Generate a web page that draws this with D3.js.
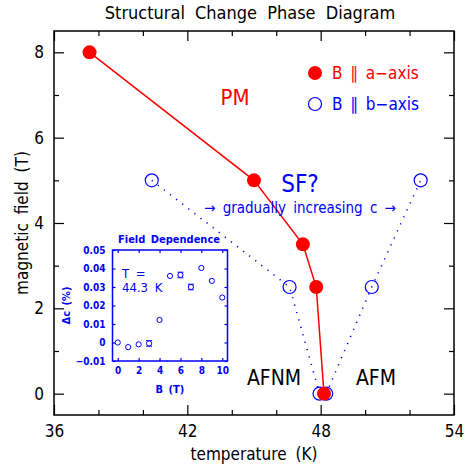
<!DOCTYPE html>
<head>
  <meta charset="utf-8">
  <script src="https://d3js.org/d3.v7.min.js"></script>
  <style>
    body { margin:0; background-color: white; }
    text { font-family: 'Liberation Sans Narrow', 'DejaVu Sans Condensed', 'Liberation Sans', Arial, sans-serif; }
    .axis path { display: none; }
    .axis line { stroke: black; stroke-width: 1.2px; }
    .axis text { font-size: 17px; fill: black; }
    .inset .axis line { stroke: blue; }
    .inset .axis text { font-size: 10px; font-weight: bold; fill: blue; }
  </style>
</head>
<body>
<svg id="chart" width="465" height="471"></svg>
<script>
// main phase diagram data
var redT = [37.6, 45.0, 47.2, 47.8, 48.15];
var redB = [8, 5, 3.5, 2.5, 0];
var blueLeftT = [40.4, 46.6, 47.95];
var blueLeftB = [5, 2.5, 0];
var blueRightT = [48.25, 50.3, 52.5];
var blueRightB = [0, 2.5, 5];
var xMajor = [36, 42, 48, 54];
var xMinor = [38, 40, 44, 46, 50, 52];
var yMajor = [0, 2, 4, 6, 8];
var yMinor = [1, 3, 5, 7];

// inset data (field dependence at T = 44.3 K)
var fieldB = [0, 1, 2, 3, 4, 5, 6, 7, 8, 9, 10];
var deltaC = [0.0, -0.0025, -0.001, -0.0005, 0.0122, 0.036, 0.0365, 0.030, 0.0403, 0.0333, 0.0243];
var deltaErr = [0, 0, 0, 0.0015, 0, 0, 0.0015, 0.0015, 0, 0, 0];
var insetXTicks = [0, 2, 4, 6, 8, 10];
var insetYTicks = [-0.01, 0, 0.01, 0.02, 0.03, 0.04, 0.05];

var svg = d3.select("#chart");
var pL = 54, pR = 454, pT = 31, pB = 415;

var x = d3.scaleLinear().domain([36, 54]).range([pL, pR]);
var y = d3.scaleLinear().domain([-0.5, 8.5]).range([pB, pT]);

function zip(a, b) { return a.map(function(d, i) { return [d, b[i]]; }); }

// axes: inward ticks on all four sides
svg.append("g").attr("class", "axis").attr("transform", "translate(0," + pB + ")")
  .call(d3.axisBottom(x).tickValues(xMajor).tickSize(-10).tickPadding(10).tickFormat(d3.format("d")));
svg.append("g").attr("class", "axis").attr("transform", "translate(0," + pB + ")")
  .call(d3.axisBottom(x).tickValues(xMinor).tickSize(-5).tickFormat(""));
svg.append("g").attr("class", "axis").attr("transform", "translate(0," + pT + ")")
  .call(d3.axisTop(x).tickValues(xMajor).tickSize(-10).tickFormat(""));
svg.append("g").attr("class", "axis").attr("transform", "translate(0," + pT + ")")
  .call(d3.axisTop(x).tickValues(xMinor).tickSize(-5).tickFormat(""));
svg.append("g").attr("class", "axis").attr("transform", "translate(" + pL + ",0)")
  .call(d3.axisLeft(y).tickValues(yMajor).tickSize(-10).tickPadding(10).tickFormat(d3.format("d")));
svg.append("g").attr("class", "axis").attr("transform", "translate(" + pL + ",0)")
  .call(d3.axisLeft(y).tickValues(yMinor).tickSize(-5).tickFormat(""));
svg.append("g").attr("class", "axis").attr("transform", "translate(" + pR + ",0)")
  .call(d3.axisRight(y).tickValues(yMajor).tickSize(-10).tickFormat(""));
svg.append("g").attr("class", "axis").attr("transform", "translate(" + pR + ",0)")
  .call(d3.axisRight(y).tickValues(yMinor).tickSize(-5).tickFormat(""));

svg.append("rect")
  .attr("x", pL).attr("y", pT)
  .attr("width", pR - pL).attr("height", pB - pT)
  .style("fill", "none").style("stroke", "black").style("stroke-width", "1.5px");

// titles
svg.append("text").attr("x", 250).attr("y", 19)
  .style("text-anchor", "middle").style("font-size", "18px").style("word-spacing", "5px")
  .text("Structural Change Phase Diagram");
svg.append("text").attr("x", 254).attr("y", 460)
  .style("text-anchor", "middle").style("font-size", "17px").style("word-spacing", "4px")
  .text("temperature (K)");
svg.append("text").attr("transform", "translate(28," + ((pT + pB) / 2) + ") rotate(-90)")
  .style("text-anchor", "middle").style("font-size", "17px").style("word-spacing", "4px")
  .text("magnetic field (T)");

// blue dotted lines
var line = d3.line().x(function(d) { return x(d[0]); }).y(function(d) { return y(d[1]); });
[zip(blueLeftT, blueLeftB), zip(blueRightT, blueRightB)].forEach(function(pts) {
  svg.append("path").attr("d", line(pts))
    .style("fill", "none").style("stroke", "blue").style("stroke-width", "1.6px")
    .style("stroke-dasharray", "1.2 6.5");
});

// red line + dots
svg.append("path").attr("d", line(zip(redT, redB)))
  .style("fill", "none").style("stroke", "red").style("stroke-width", "1.5px");

var bluePts = zip(blueLeftT, blueLeftB).concat(zip(blueRightT, blueRightB));
svg.selectAll(".bdot").data(bluePts).enter().append("circle")
  .attr("class", "bdot")
  .attr("cx", function(d) { return x(d[0]); })
  .attr("cy", function(d) { return y(d[1]); })
  .attr("r", 6.5)
  .style("fill", "none").style("stroke", "blue").style("stroke-width", "1.2px");

svg.selectAll(".rdot").data(zip(redT, redB)).enter().append("circle")
  .attr("class", "rdot")
  .attr("cx", function(d) { return x(d[0]); })
  .attr("cy", function(d) { return y(d[1]); })
  .attr("r", 7)
  .style("fill", "red");

// legend
svg.append("circle").attr("cx", 315).attr("cy", 73).attr("r", 7).style("fill", "red");
svg.append("text").attr("x", 332).attr("y", 79).style("font-size", "17px").style("fill", "red")
  .style("word-spacing", "3px").text("B \u2225 a\u2212axis");
svg.append("circle").attr("cx", 315).attr("cy", 104).attr("r", 6.5)
  .style("fill", "none").style("stroke", "blue").style("stroke-width", "1.2px");
svg.append("text").attr("x", 332).attr("y", 110).style("font-size", "17px").style("fill", "blue")
  .style("word-spacing", "3px").text("B \u2225 b\u2212axis");

// phase labels
svg.append("text").attr("x", 235).attr("y", 105).style("text-anchor", "middle")
  .style("font-size", "22px").style("fill", "red").text("PM");
svg.append("text").attr("x", 300).attr("y", 192).style("text-anchor", "middle")
  .style("font-size", "24px").style("fill", "blue").text("SF?");
svg.append("text").attr("x", 300).attr("y", 213).style("text-anchor", "middle")
  .style("font-size", "15px").style("fill", "blue").style("word-spacing", "3px")
  .text("\u2192 gradually increasing c \u2192");
svg.append("text").attr("x", 274).attr("y", 385).style("text-anchor", "middle")
  .style("font-size", "21px").style("fill", "black").text("AFNM");
svg.append("text").attr("x", 376).attr("y", 385).style("text-anchor", "middle")
  .style("font-size", "21px").style("fill", "black").text("AFM");

// inset
var inset = svg.append("g").attr("class", "inset");
var il = 112.5, ir = 227.5, it = 250, ib = 361;
var ix = d3.scaleLinear().domain([-0.5, 10.5]).range([il, ir]);
var iy = d3.scaleLinear().domain([-0.01, 0.05]).range([ib, it]);

inset.append("rect").attr("x", il).attr("y", it).attr("width", ir - il).attr("height", ib - it)
  .style("fill", "white").style("stroke", "blue").style("stroke-width", "1.5px");

inset.append("g").attr("class", "axis").attr("transform", "translate(0," + ib + ")")
  .call(d3.axisBottom(ix).tickValues(insetXTicks).tickSize(-3).tickPadding(6).tickFormat(d3.format("d")));
inset.append("g").attr("class", "axis").attr("transform", "translate(0," + it + ")")
  .call(d3.axisTop(ix).tickValues(insetXTicks).tickSize(-3).tickFormat(""));
inset.append("g").attr("class", "axis").attr("transform", "translate(" + il + ",0)")
  .call(d3.axisLeft(iy).tickValues(insetYTicks).tickSize(-3).tickPadding(7)
    .tickFormat(function(d) { return d === 0 ? "0" : d3.format(".2f")(d).replace("-", "\u2212"); }));
inset.append("g").attr("class", "axis").attr("transform", "translate(" + ir + ",0)")
  .call(d3.axisRight(iy).tickValues(insetYTicks).tickSize(-3).tickFormat(""));

inset.append("text").attr("x", 169).attr("y", 243).style("text-anchor", "middle")
  .style("font-size", "11px").style("font-weight", "bold").style("fill", "blue")
  .style("word-spacing", "2px").text("Field Dependence");
inset.append("text").attr("x", 170).attr("y", 393).style("text-anchor", "middle")
  .style("font-size", "11px").style("font-weight", "bold").style("fill", "blue")
  .style("word-spacing", "2px").text("B (T)");
inset.append("text").attr("transform", "translate(70," + ((it + ib) / 2) + ") rotate(-90)")
  .style("text-anchor", "middle").style("font-size", "11px").style("font-weight", "bold")
  .style("fill", "blue").style("word-spacing", "2px").text("\u0394c (%)");
inset.append("text").attr("x", 122).attr("y", 278)
  .style("font-size", "13px").style("fill", "blue").style("word-spacing", "3px").text("T =");
inset.append("text").attr("x", 122).attr("y", 292)
  .style("font-size", "13px").style("fill", "blue").style("word-spacing", "3px").text("44.3 K");

var ipts = fieldB.map(function(b, i) { return {b: b, c: deltaC[i], e: deltaErr[i]}; });
var eb = inset.selectAll(".err").data(ipts.filter(function(d) { return d.e > 0; })).enter()
  .append("g").attr("class", "err");
eb.append("line")
  .attr("x1", function(d) { return ix(d.b); }).attr("x2", function(d) { return ix(d.b); })
  .attr("y1", function(d) { return iy(d.c - d.e); }).attr("y2", function(d) { return iy(d.c + d.e); })
  .style("stroke", "blue").style("stroke-width", "1px");
[-1, 1].forEach(function(s) {
  eb.append("line")
    .attr("x1", function(d) { return ix(d.b) - 3; }).attr("x2", function(d) { return ix(d.b) + 3; })
    .attr("y1", function(d) { return iy(d.c + s * d.e); }).attr("y2", function(d) { return iy(d.c + s * d.e); })
    .style("stroke", "blue").style("stroke-width", "1px");
});
inset.selectAll(".ipt").data(ipts).enter().append("circle")
  .attr("class", "ipt")
  .attr("cx", function(d) { return ix(d.b); })
  .attr("cy", function(d) { return iy(d.c); })
  .attr("r", 2.6)
  .style("fill", "white").style("stroke", "blue").style("stroke-width", "1px");
</script>
</body>
